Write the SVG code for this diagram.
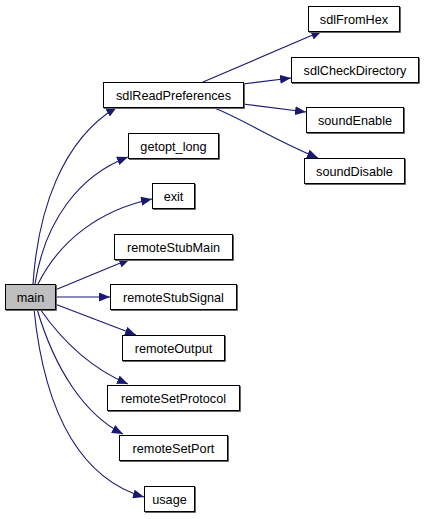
<svg xmlns="http://www.w3.org/2000/svg" width="424" height="519" viewBox="0 0 424 519">
<style>
.bg{fill:#ffffff}
.box{fill:#ffffff;stroke:#000000;stroke-width:1}
.cur{fill:#bfbfbf;stroke:#000000;stroke-width:1}
.sh{fill:none;stroke:#666666;stroke-width:1}
.lbl{font-family:"Liberation Sans",Arial,sans-serif;font-size:12.7px;fill:#000000;text-anchor:middle}
.e{fill:none;stroke:#191970;stroke-width:1.1}
</style>
<defs>
<marker id="ah" viewBox="0 0 11 9" refX="11" refY="4.5" markerWidth="11" markerHeight="9" markerUnits="userSpaceOnUse" orient="auto">
<path d="M0,0 L11,4.5 L0,9 z" fill="#191970"/>
</marker>
</defs>
<rect class="bg" x="0" y="0" width="424" height="519"/>
<g id="edges">
<path class="e" marker-end="url(#ah)" d="M33,284 C38,210 62,140 117,107"/>
<path class="e" marker-end="url(#ah)" d="M35,284 C45,220 80,175 128,157"/>
<path class="e" marker-end="url(#ah)" d="M38,284 C60,240 100,210 152,199"/>
<path class="e" marker-end="url(#ah)" d="M55,290 L130,259"/>
<path class="e" marker-end="url(#ah)" d="M55,297 L110,297"/>
<path class="e" marker-end="url(#ah)" d="M55,304 L136,335"/>
<path class="e" marker-end="url(#ah)" d="M40,309 C65,345 95,370 128,384"/>
<path class="e" marker-end="url(#ah)" d="M37,309 C55,370 85,415 123,434"/>
<path class="e" marker-end="url(#ah)" d="M34,309 C45,420 85,480 144,497"/>
<path class="e" marker-end="url(#ah)" d="M203,82 L322,31"/>
<path class="e" marker-end="url(#ah)" d="M243,84 L291,78"/>
<path class="e" marker-end="url(#ah)" d="M243,104 L306,112"/>
<path class="e" marker-end="url(#ah)" d="M212,107 C245,120 270,138 318,158"/>
</g>
<g id="main"><rect class="cur" x="5.5" y="284.5" width="50" height="25"/><path class="sh" d="M56.5,285 V310.5 H6"/><text class="lbl" x="30.5" y="301.5">main</text></g>
<g id="sdlReadPreferences"><rect class="box" x="103.5" y="82.5" width="140" height="25"/><path class="sh" d="M244.5,83 V108.5 H104"/><text class="lbl" x="173.5" y="99.5">sdlReadPreferences</text></g>
<g id="getopt_long"><rect class="box" x="128.5" y="133.5" width="90" height="25"/><path class="sh" d="M219.5,134 V159.5 H129"/><text class="lbl" x="173.5" y="150.5">getopt_long</text></g>
<g id="exit"><rect class="box" x="152.5" y="183.5" width="42" height="25"/><path class="sh" d="M195.5,184 V209.5 H153"/><text class="lbl" x="173.5" y="200.5">exit</text></g>
<g id="remoteStubMain"><rect class="box" x="114.5" y="234.5" width="118" height="25"/><path class="sh" d="M233.5,235 V260.5 H115"/><text class="lbl" x="173.5" y="251.5">remoteStubMain</text></g>
<g id="remoteStubSignal"><rect class="box" x="110.5" y="284.5" width="126" height="25"/><path class="sh" d="M237.5,285 V310.5 H111"/><text class="lbl" x="173.5" y="301.5">remoteStubSignal</text></g>
<g id="remoteOutput"><rect class="box" x="122.5" y="335.5" width="102" height="25"/><path class="sh" d="M225.5,336 V361.5 H123"/><text class="lbl" x="173.5" y="352.5">remoteOutput</text></g>
<g id="remoteSetProtocol"><rect class="box" x="107.5" y="385.5" width="132" height="25"/><path class="sh" d="M240.5,386 V411.5 H108"/><text class="lbl" x="173.5" y="402.5">remoteSetProtocol</text></g>
<g id="remoteSetPort"><rect class="box" x="119.5" y="435.5" width="108" height="25"/><path class="sh" d="M228.5,436 V461.5 H120"/><text class="lbl" x="173.5" y="452.5">remoteSetPort</text></g>
<g id="usage"><rect class="box" x="144.5" y="486.5" width="50" height="25"/><path class="sh" d="M195.5,487 V512.5 H145"/><text class="lbl" x="169.5" y="503.5">usage</text></g>
<g id="sdlFromHex"><rect class="box" x="308.5" y="6.5" width="91" height="25"/><path class="sh" d="M400.5,7 V32.5 H309"/><text class="lbl" x="354" y="23.5">sdlFromHex</text></g>
<g id="sdlCheckDirectory"><rect class="box" x="291.5" y="57.5" width="127" height="25"/><path class="sh" d="M419.5,58 V83.5 H292"/><text class="lbl" x="355" y="74.5">sdlCheckDirectory</text></g>
<g id="soundEnable"><rect class="box" x="306.5" y="107.5" width="97" height="25"/><path class="sh" d="M404.5,108 V133.5 H307"/><text class="lbl" x="355" y="124.5">soundEnable</text></g>
<g id="soundDisable"><rect class="box" x="304.5" y="158.5" width="100" height="25"/><path class="sh" d="M405.5,159 V184.5 H305"/><text class="lbl" x="354.5" y="175.5">soundDisable</text></g>
</svg>
